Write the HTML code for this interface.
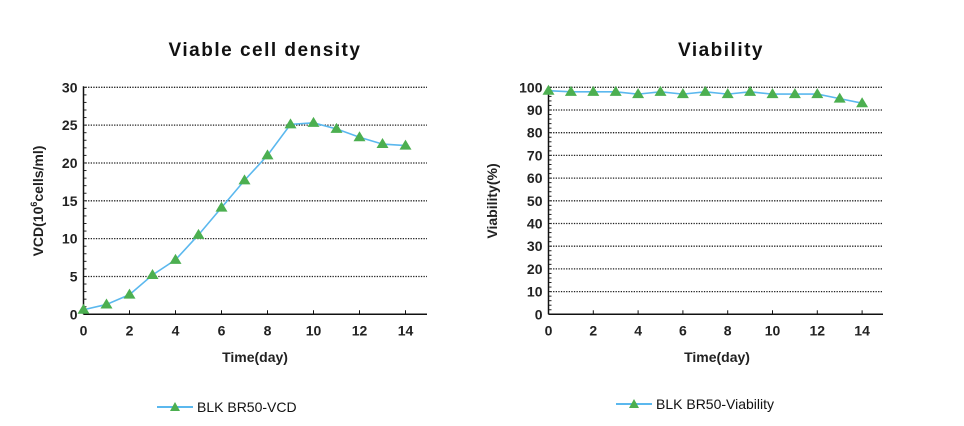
<!DOCTYPE html>
<html><head><meta charset="utf-8"><style>
html,body{margin:0;padding:0;background:#fff;}
svg{display:block;font-family:"Liberation Sans",Arial,sans-serif;}
</style></head><body>
<svg id="s" width="964" height="426" xmlns="http://www.w3.org/2000/svg">
<text x="265" y="56" font-size="19" font-weight="bold" text-anchor="middle" letter-spacing="1.5" fill="#111">Viable cell density</text>
<text x="721" y="56" font-size="19" font-weight="bold" text-anchor="middle" letter-spacing="1.5" fill="#111">Viability</text>
<text x="255" y="362" font-size="14" font-weight="bold" text-anchor="middle" fill="#222">Time(day)</text>
<text x="717" y="362" font-size="14" font-weight="bold" text-anchor="middle" fill="#222">Time(day)</text>
<text transform="translate(43,201) rotate(-90)" font-size="14" font-weight="bold" text-anchor="middle" fill="#222">VCD(10<tspan font-size="9" dy="-6">6</tspan><tspan dy="6">cells/ml)</tspan></text>
<text transform="translate(497,201) rotate(-90)" font-size="14" font-weight="bold" text-anchor="middle" fill="#222">Viability(%)</text>
<line x1="157" y1="407" x2="193" y2="407" stroke="#5bb8ee" stroke-width="2"/>
<polygon points="175,402 170,411 180,411" fill="#4caf50"/>
<text x="197" y="412" font-size="14" fill="#111">BLK BR50-VCD</text>
<line x1="616" y1="404" x2="652" y2="404" stroke="#5bb8ee" stroke-width="2"/>
<polygon points="634,399 629,408 639,408" fill="#4caf50"/>
<text x="656" y="409" font-size="14" fill="#111">BLK BR50-Viability</text>
<g id="g"></g>
</svg>
<script>
var g=document.getElementById('g'),h='';
function chart(ax,right,dx,ymax,step,minor,data){
 var top=87.3,bot=314.3,ys=(bot-top)/ymax;
 for(var v=step;v<=ymax;v+=step){var y=bot-v*ys;h+='<line x1="'+(ax+2)+'" y1="'+y+'" x2="'+right+'" y2="'+y+'" stroke="#222" stroke-width="1.3" stroke-dasharray="1.3,1.3"/>';}
 for(var v=0;v<=ymax;v+=minor){var y=bot-v*ys;h+='<line x1="'+(ax)+'" y1="'+y+'" x2="'+(ax+3)+'" y2="'+y+'" stroke="#222" stroke-width="1"/>';}
 for(var v=0;v<=ymax;v+=step){var y=bot-v*ys;h+='<text x="'+(ax-6)+'" y="'+(y+5)+'" font-size="14" font-weight="bold" text-anchor="end" fill="#222">'+v+'</text>';}
 h+='<line x1="'+ax+'" y1="'+(top-1)+'" x2="'+ax+'" y2="'+bot+'" stroke="#111" stroke-width="1.5"/>';
 h+='<line x1="'+ax+'" y1="'+bot+'" x2="'+right+'" y2="'+bot+'" stroke="#111" stroke-width="1.5"/>';
 for(var d=0;d<=14;d+=2){var x=ax+d*dx;h+='<line x1="'+x+'" y1="'+bot+'" x2="'+x+'" y2="'+(bot-4)+'" stroke="#111"/>';h+='<text x="'+x+'" y="'+(bot+21)+'" font-size="14" font-weight="bold" text-anchor="middle" fill="#222">'+d+'</text>';}
 var p=data.map(function(v,i){return (ax+i*dx)+','+(bot-v*ys)}).join(' ');
 h+='<polyline points="'+p+'" fill="none" stroke="#5bb8ee" stroke-width="1.6"/>';
 data.forEach(function(v,i){var x=ax+i*dx,y=bot-v*ys;h+='<polygon points="'+x+','+(y-6)+' '+(x-6)+','+(y+4)+' '+(x+6)+','+(y+4)+'" fill="#4caf50"/>';});
}
chart(83.5,427,23,30,5,1,[0.6,1.3,2.6,5.2,7.2,10.5,14.1,17.7,21.0,25.1,25.3,24.5,23.4,22.5,22.3]);
chart(548.5,883,22.4,100,10,2,[98.5,98,98,98,97,98,97,98,97,98,97,97,97,95,93]);
g.innerHTML=h;
</script>
</body></html>
